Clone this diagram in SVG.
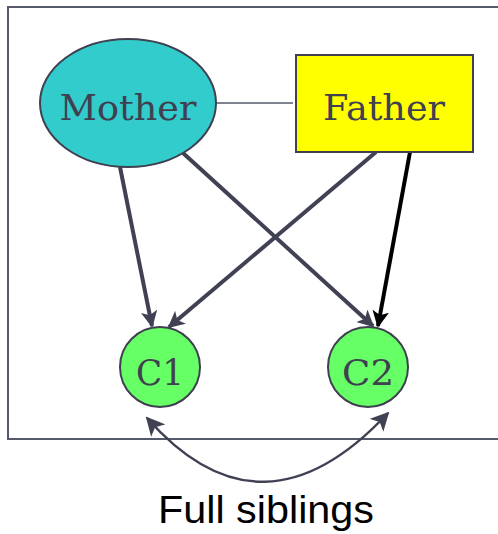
<svg xmlns="http://www.w3.org/2000/svg" width="498" height="534" viewBox="0 0 498 534">
<style>
.frame{fill:none;stroke:#555a6a;stroke-width:2}
.lbl{font-family:"DejaVu Serif",Georgia,serif;font-size:36px;fill:#3f4050;text-anchor:middle}
.node{stroke:#3f4050;stroke-width:2}
.edge{stroke:#404254;stroke-width:4;fill:none}
.edgeb{stroke:#000;stroke-width:4;fill:none}
.thin{stroke:#555a6a;stroke-width:1.5;fill:none}
.arc{stroke:#404254;stroke-width:2.5;fill:none}
</style>
<defs>
<marker id="ah" viewBox="0 0 10 10" refX="9" refY="5" markerWidth="4.2" markerHeight="4.2" orient="auto" markerUnits="strokeWidth">
<path d="M0,0 L10,5 L0,10 L2.5,5 z" fill="#404254"/>
</marker>
<marker id="ahb" viewBox="0 0 10 10" refX="9" refY="5" markerWidth="4.2" markerHeight="4.2" orient="auto" markerUnits="strokeWidth">
<path d="M0,0 L10,5 L0,10 L2.5,5 z" fill="#000"/>
</marker>
<marker id="ah2" viewBox="0 0 10 10" refX="9" refY="5" markerWidth="7.5" markerHeight="7.5" orient="auto-start-reverse" markerUnits="strokeWidth">
<path d="M0,0 L10,5 L0,10 L2.5,5 z" fill="#404254"/>
</marker>
</defs>
<rect class="frame" x="8" y="7" width="500" height="432"/>
<g id="connectors">
<line class="thin" x1="217" y1="103" x2="293" y2="103"/>
<line class="edge" x1="120" y1="167" x2="152" y2="326" marker-end="url(#ah)"/>
<line class="edge" x1="376" y1="152" x2="169" y2="327" marker-end="url(#ah)"/>
<line class="edge" x1="183" y1="153" x2="373" y2="326" marker-end="url(#ah)"/>
<line class="edgeb" x1="410" y1="152" x2="378" y2="326" marker-end="url(#ahb)"/>
<path class="arc" d="M147,418 Q262,548 388,413" marker-start="url(#ah2)" marker-end="url(#ah2)"/>
</g>
<g id="mother">
<ellipse class="node" cx="128" cy="103" rx="88" ry="64" fill="#33CCCC"/>
<text class="lbl" x="128" y="120" textLength="137" lengthAdjust="spacingAndGlyphs">Mother</text>
</g>
<g id="father">
<rect class="node" x="296" y="55" width="177" height="97" fill="#FFFF00"/>
<text class="lbl" x="384" y="120" textLength="122" lengthAdjust="spacingAndGlyphs">Father</text>
</g>
<g id="c1">
<circle class="node" cx="160" cy="367" r="40" fill="#66FF66"/>
<text class="lbl" x="160" y="385" font-size="40" textLength="48" lengthAdjust="spacingAndGlyphs">C1</text>
</g>
<g id="c2">
<circle class="node" cx="368" cy="367" r="40" fill="#66FF66"/>
<text class="lbl" x="368" y="385" font-size="40" textLength="52" lengthAdjust="spacingAndGlyphs">C2</text>
</g>
<text x="266" y="523" font-family="'Liberation Sans',Arial,sans-serif" font-size="39" fill="#000" text-anchor="middle" textLength="216" lengthAdjust="spacingAndGlyphs">Full siblings</text>
</svg>
